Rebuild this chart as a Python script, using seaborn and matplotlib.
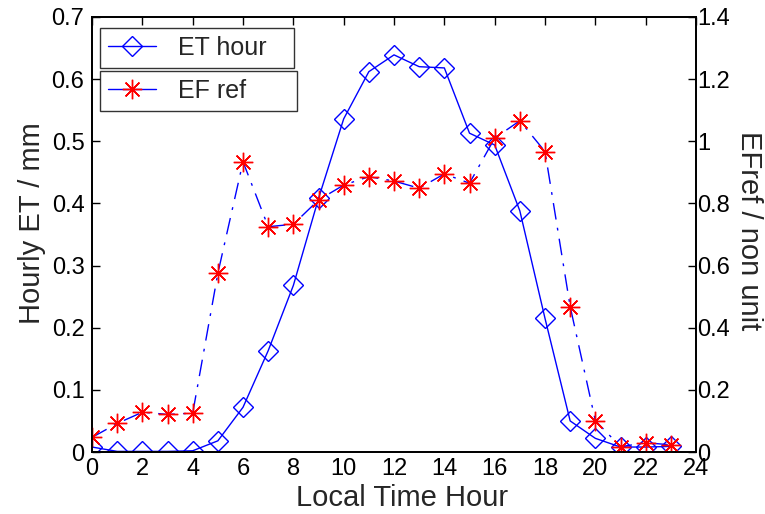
import numpy as np
import pandas as pd
import matplotlib
matplotlib.use("Agg")
import matplotlib.pyplot as plt
import seaborn as sns
from matplotlib.lines import Line2D

hours = list(range(24))
et_hour = [0.008, 0.001, 0.001, 0.001, 0.002, 0.018, 0.072, 0.163, 0.268, 0.408,
           0.536, 0.612, 0.639, 0.620, 0.618, 0.513, 0.494, 0.388, 0.215, 0.050,
           0.022, 0.008, 0.008, 0.009]
ef_ref = [0.047, 0.092, 0.128, 0.121, 0.125, 0.575, 0.934, 0.725, 0.733, 0.811,
          0.859, 0.886, 0.872, 0.849, 0.895, 0.865, 1.010, 1.066, 0.967, 0.468,
          0.101, 0.017, 0.030, 0.023]
x_ticks = list(range(0, 25, 2))
left_ticks = [0, 0.1, 0.2, 0.3, 0.4, 0.5, 0.6, 0.7]
right_ticks = [0, 0.2, 0.4, 0.6, 0.8, 1.0, 1.2, 1.4]
right_labels = ["0", "0.2", "0.4", "0.6", "0.8", "1", "1.2", "1.4"]

sns.set_style("white")
plt.rcParams['font.family'] = ['Liberation Sans', 'DejaVu Sans']
plt.rcParams['xtick.direction'] = 'in'
plt.rcParams['ytick.direction'] = 'in'

df = pd.DataFrame({"hour": hours, "et": et_hour, "ef": ef_ref})

fig = plt.figure(figsize=(7.65, 5.14), dpi=100)
ax = fig.add_axes([0.1203, 0.1206, 0.7895, 0.8464])
ax2 = ax.twinx()

star = (8, 2, 0)
sns.lineplot(data=df, x="hour", y="et", ax=ax, color="#0000ff", lw=1.0,
             marker="D", markersize=10.5, markerfacecolor="none",
             markeredgecolor="#0000ff", markeredgewidth=1.0)
sns.lineplot(data=df, x="hour", y="ef", ax=ax2, color="#0000ff", lw=1.0,
             linestyle=(0, (12, 6, 2, 6)), marker=star, markersize=14,
             markeredgecolor="#ff0000", markerfacecolor="#ff0000",
             markeredgewidth=1.0)

ax.set_xlim(0, 24)
ax.set_ylim(0, 0.7)
ax2.set_ylim(0, 1.4)
ax.set_xticks(x_ticks)
ax.set_xticklabels([str(t) for t in x_ticks])
ax.set_yticks(left_ticks)
ax.set_yticklabels(["0"] + [f"{t:.1f}" for t in left_ticks[1:]])
ax2.set_yticks(right_ticks)
ax2.set_yticklabels(right_labels)

fs_tick = 17
ax.tick_params(axis='x', labelsize=fs_tick, length=6, width=1, colors='black',
               top=True, pad=4.5)
ax.tick_params(axis='y', labelsize=fs_tick, length=6, width=1, colors='black',
               pad=5.5)
ax2.tick_params(axis='y', labelsize=fs_tick, length=6, width=1, colors='black',
                pad=0.8)

ax.set_xlabel("Local Time Hour", fontsize=21, labelpad=2.5)
ax.set_ylabel("Hourly ET / mm", fontsize=21, labelpad=4)
ax2.set_ylabel("EFref / non unit", fontsize=21, rotation=270, labelpad=24)
ax.xaxis.label.set_x(0.513)
ax.yaxis.label.set_y(0.525)
ax2.yaxis.label.set_y(0.51)

for a in (ax, ax2):
    for s in a.spines.values():
        s.set_color('black')
        s.set_linewidth(1.3)

h1 = Line2D([], [], color="#0000ff", lw=1.0, marker="D", markersize=10.5,
            markerfacecolor="none", markeredgecolor="#0000ff")
h2 = Line2D([], [], color="#0000ff", lw=1.0, marker=star, markersize=14,
            markeredgecolor="#ff0000")
leg_kw = dict(fontsize=18, frameon=True, fancybox=False, handlelength=1.9,
              borderpad=0.32, handletextpad=0.9, borderaxespad=0, mode="expand",
              loc="upper left")
leg1 = ax2.legend([h1], ["ET hour"], bbox_to_anchor=(0.0132, 0.955, 0.3212, 0.02),
                  **leg_kw)
leg1.get_frame().set_edgecolor("black")
leg1.get_frame().set_linewidth(1.0)
ax2.add_artist(leg1)
leg2 = ax2.legend([h2], ["EF ref"], bbox_to_anchor=(0.0132, 0.856, 0.3262, 0.02),
                  **leg_kw)
leg2.get_frame().set_edgecolor("black")
leg2.get_frame().set_linewidth(1.0)

fig.savefig("out.png", dpi=100)
